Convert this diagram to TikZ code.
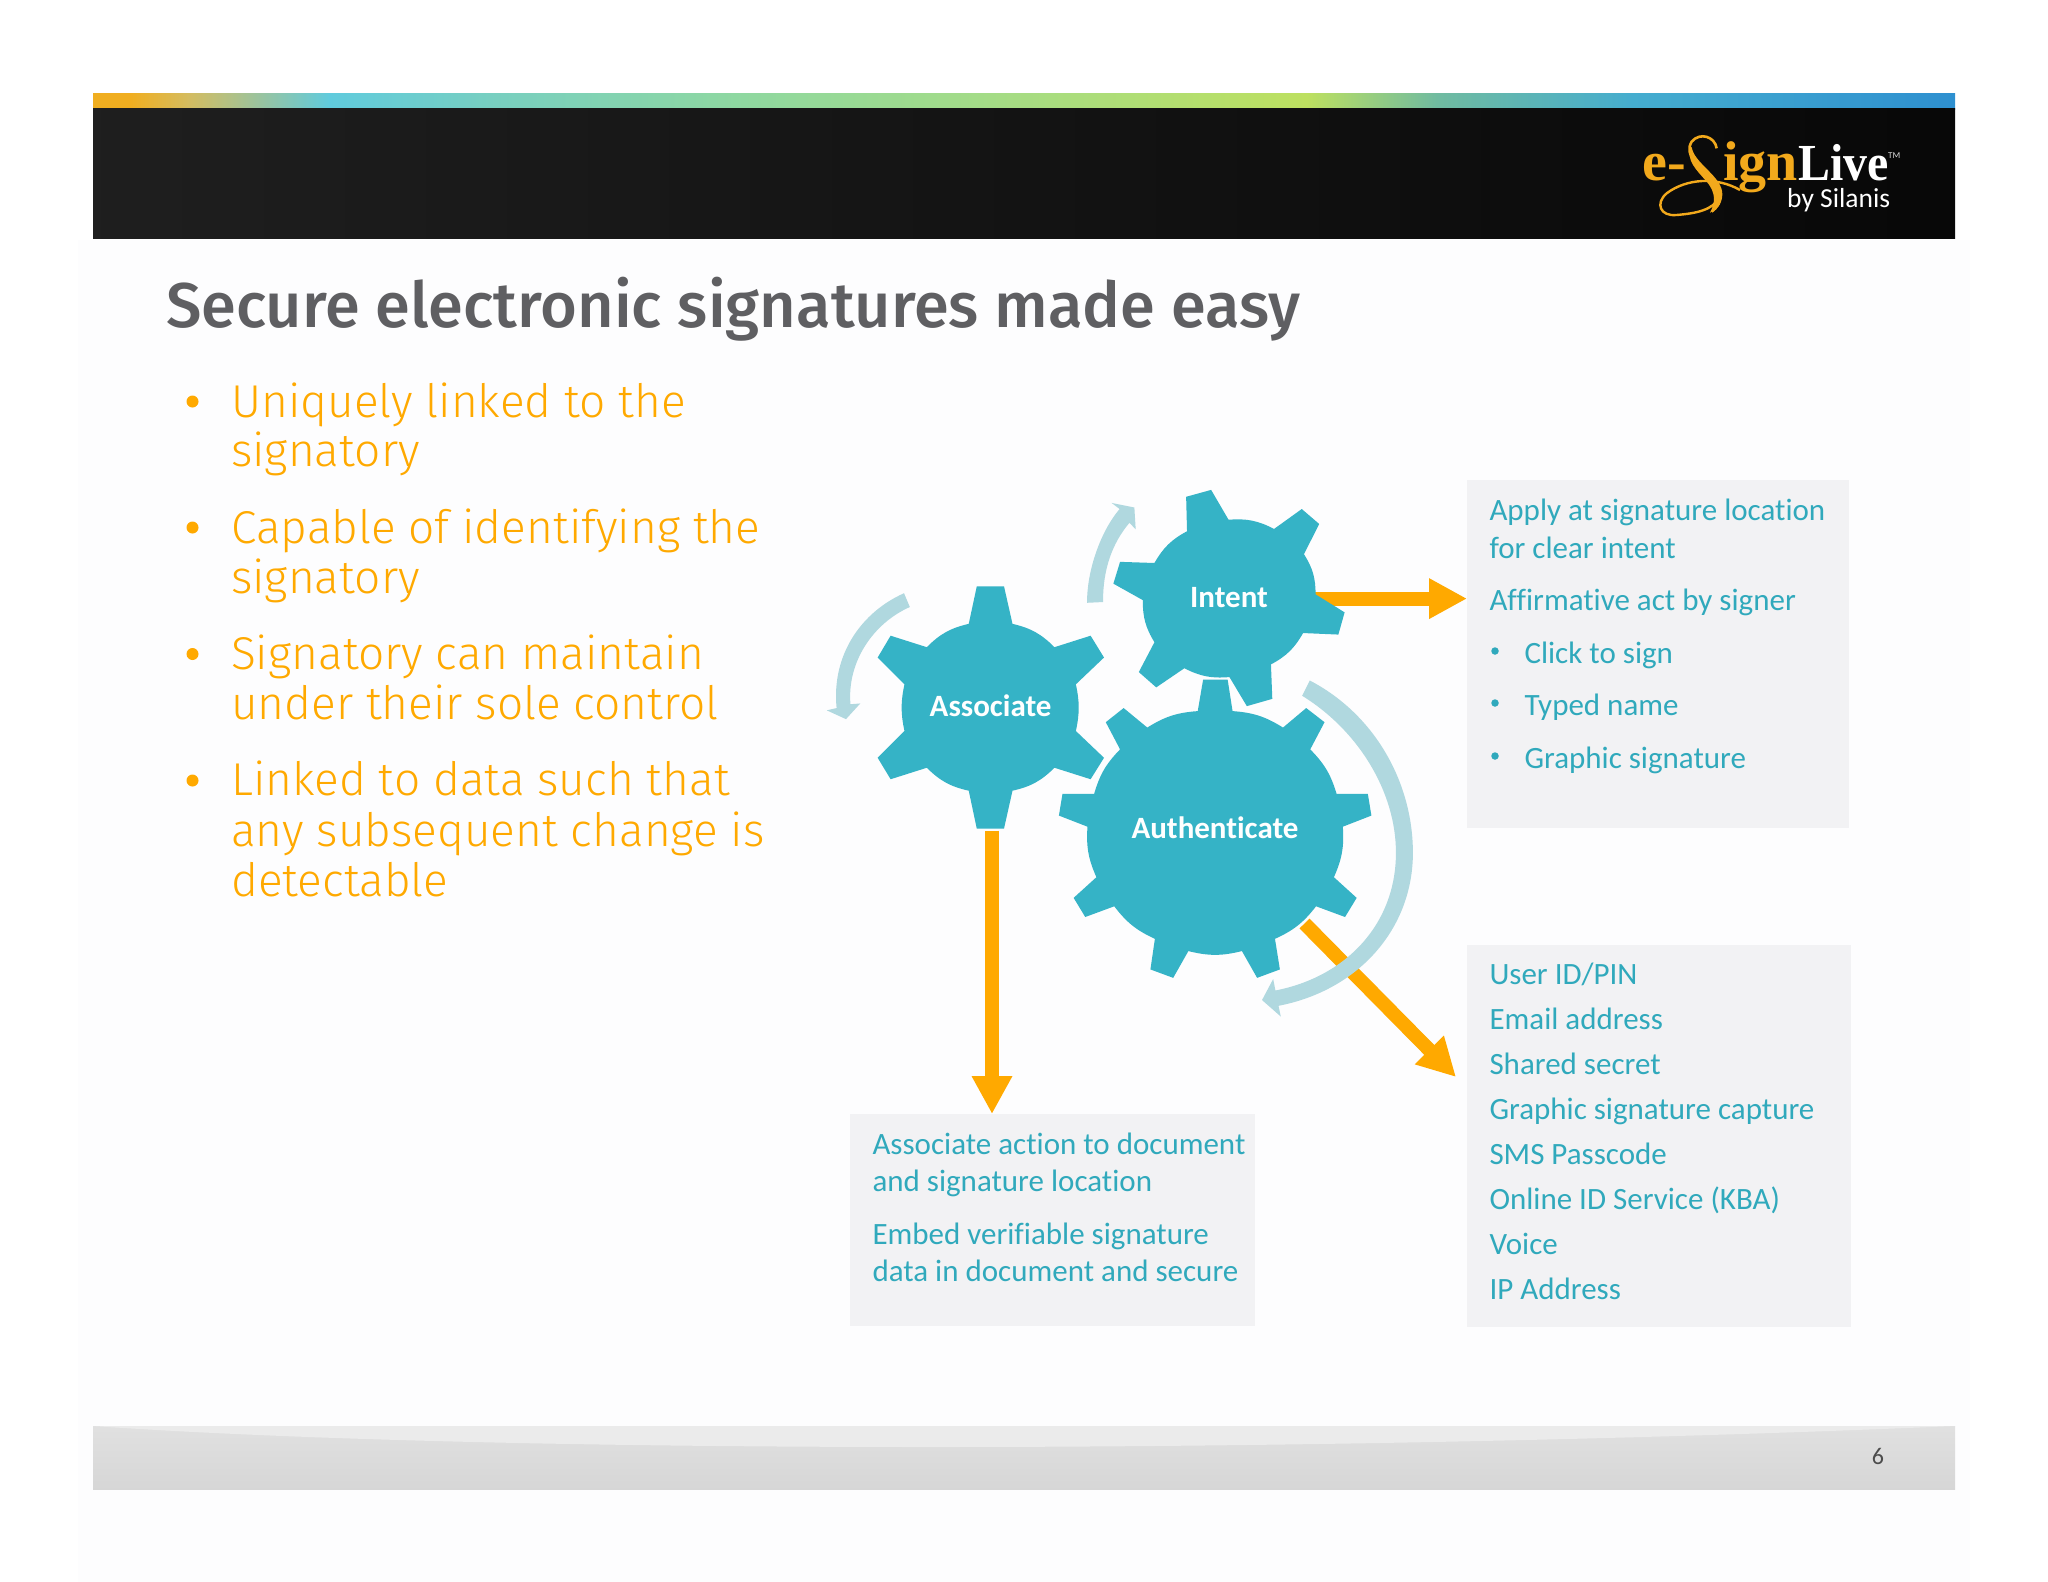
\documentclass[tikz,border=0pt]{standalone}
\usepackage{fontspec}
\usetikzlibrary{arrows.meta}
\setmainfont{Carlito}
\newfontfamily\carl[Ligatures=NoCommon]{Carlito}
\newfontfamily\lightf{Fira Sans Light}
\newfontfamily\medf{Fira Sans Medium}
\newfontfamily\serf{Liberation Serif}
\definecolor{gearc}{HTML}{35B3C6}
\definecolor{lightc}{HTML}{B0D8DF}
\definecolor{orangec}{HTML}{FFA900}
\definecolor{panelc}{HTML}{F2F2F4}
\definecolor{tealt}{HTML}{30A9BC}
\definecolor{titlec}{HTML}{5F5F62}
\definecolor{logoc}{HTML}{F2A91C}
\definecolor{pagec}{HTML}{FDFDFE}
\tikzset{
 panel/.style={fill=panelc,draw=none,inner sep=0pt,outer sep=0pt,anchor=north west},
 boxtext/.style={inner sep=0pt,anchor=base west,xshift=-0.7pt,yshift=-1pt,text=tealt,font=\carl\fontsize{31}{34}\selectfont},
 listtext/.style={inner sep=0pt,anchor=base west,xshift=-1pt,yshift=-0.7pt,text=orangec,font=\lightf\fontsize{46}{50}\selectfont},
 listbullet/.style={circle,fill=orangec,inner sep=0pt,minimum size=12pt},
 boxbullet/.style={circle,fill=tealt,inner sep=0pt,minimum size=7.5pt},
 gearlabel/.style={inner sep=0pt,anchor=base,text=white,font=\carl\bfseries\fontsize{31}{33}\selectfont},
 gearfill/.style={fill=gearc,draw=none},
 turn/.style={fill=lightc,draw=none},
 link/.style={draw=orangec,line width=14pt},
}
\newcommand{\gradseg}[4]{\definecolor{ga}{HTML}{#3}\definecolor{gb}{HTML}{#4}\fill[left color=ga,right color=gb] (#1,93) rectangle (#2,109);}
\begin{document}
\begin{tikzpicture}[x=1pt,y=-1pt]
\useasboundingbox (0,0) rectangle (2048,1582);
\fill[white] (0,0) rectangle (2048,1582);
\fill[pagec] (78,240) rectangle (1970,1582);
% top band
\gradseg{93}{131}{F0AE20}{F0AE20}
\gradseg{130}{189}{F0AE20}{D4BC60}
\gradseg{188}{330}{D4BC60}{60CBDD}
\gradseg{329}{496}{60CBDD}{78CFC0}
\gradseg{495}{744}{78CFC0}{8FD8A0}
\gradseg{743}{1001}{8FD8A0}{A5DC85}
\gradseg{1000}{1308}{A5DC85}{BDE060}
\gradseg{1307}{1437}{BDE060}{70BBA0}
\gradseg{1436}{1633}{70BBA0}{45ADCF}
\gradseg{1632}{1955}{45ADCF}{2E90D0}
\fill[left color=black!88!white,right color=black!97!white] (93,108) rectangle (1955,238);
% logo
\begin{scope}[shift={(1560,80)},x=0.3333pt,y=-0.3333pt]
\draw[logoc,line width=2.4pt] (540,330) .. controls (470,290) and (380,295) .. (320,340) .. controls (285,370) and (300,410) .. (350,405) .. controls (410,400) and (460,390) .. (480,350);
\draw[logoc,line width=2.6pt] (470,205) .. controls (465,170) and (420,155) .. (395,185) .. controls (370,225) and (420,265) .. (450,300) .. controls (480,335) and (490,370) .. (455,395);
\fill[logoc] (395,200) .. controls (400,250) and (490,290) .. (487,345) .. controls (485,375) and (470,390) .. (450,398) .. controls (465,370) and (470,340) .. (440,305) .. controls (410,270) and (375,240) .. (395,200) -- cycle;
\end{scope}
\node[inner sep=0pt,anchor=base west,text=logoc,font=\serf\bfseries\fontsize{56}{60}\selectfont] (logoa) at (1642,180) {e-};
\node[inner sep=0pt,anchor=base west,text=logoc,font=\serf\bfseries\fontsize{56}{60}\selectfont] (logob) at (1723,180) {ign};
\node[inner sep=0pt,anchor=base west,text=white,font=\serf\bfseries\fontsize{52}{60}\selectfont] (logol) at (1798,180) {\scalebox{0.92}[1]{Live}};
\node[inner sep=0pt,anchor=base west,text=white!85!black,font=\carl\fontsize{9}{10}\selectfont] (logod) at (1888,158) {TM};
\node[inner sep=0pt,anchor=base west,text=white,font=\carl\fontsize{27.5}{30}\selectfont] (logoe) at (1787,207) {by Silanis};
% footer
\fill[top color=white!88!black,bottom color=white!84!black] (93,1426) rectangle (1955,1489);
\fill[white!92!black] (93,1426) .. controls (500,1454) and (1300,1454) .. (1955,1426) -- cycle;
\node[inner sep=0pt,anchor=base,text=black!70!white,font=\carl\fontsize{24}{26}\selectfont] (pageno) at (1878,1464) {6};
% title and list
\node[inner sep=0pt,anchor=base west,text=titlec,font=\medf\fontsize{63.2}{66}\selectfont] (title) at (166,327) {Secure electronic signatures made easy};
\node[listbullet] (lb1) at (192.5,401.5) {};
\node[listbullet] (lb2) at (192.5,527.5) {};
\node[listbullet] (lb3) at (192.5,654) {};
\node[listbullet] (lb4) at (192.5,780.5) {};
\node[listtext] (l1) at (232,416.5) {Uniquely linked to the};
\node[listtext] (l2) at (232,466) {signatory};
\node[listtext] (l3) at (232,543) {Capable of identifying the};
\node[listtext] (l4) at (232,593) {signatory};
\node[listtext] (l5) at (232,669) {Signatory can maintain};
\node[listtext] (l6) at (232,719) {under their sole control};
\node[listtext] (l7) at (232,795) {Linked to data such that};
\node[listtext] (l8) at (232,846) {any subsequent change is};
\node[listtext] (l9) at (232,895.5) {detectable};
% panels
\node[panel,minimum width=382pt,minimum height=348pt] (box1) at (1467,480) {};
\node[panel,minimum width=384pt,minimum height=382pt] (box2) at (1467,945) {};
\node[panel,minimum width=405pt,minimum height=212pt] (box3) at (850,1114) {};
\node[boxtext] (t1a) at (1490,519) {Apply at signature location};
\node[boxtext] (t1b) at (1490,557) {for clear intent};
\node[boxtext] (t1c) at (1490,609) {Affirmative act by signer};
\node[boxbullet] (bb1) at (1495,651) {};
\node[boxbullet] (bb2) at (1495,703) {};
\node[boxbullet] (bb3) at (1495,756) {};
\node[boxtext] (t1d) at (1525,662) {Click to sign};
\node[boxtext] (t1e) at (1525,714) {Typed name};
\node[boxtext] (t1f) at (1525,767) {Graphic signature};
\node[boxtext] (t2a) at (1490,983) {User ID/PIN};
\node[boxtext] (t2b) at (1490,1028) {Email address};
\node[boxtext] (t2c) at (1490,1073) {Shared secret};
\node[boxtext] (t2d) at (1490,1118) {Graphic signature capture};
\node[boxtext] (t2e) at (1490,1163) {SMS Passcode};
\node[boxtext] (t2f) at (1490,1208) {Online ID Service (KBA)};
\node[boxtext] (t2g) at (1490,1253) {Voice};
\node[boxtext] (t2h) at (1490,1298) {IP Address};
\node[boxtext] (t3a) at (873,1153) {Associate action to document};
\node[boxtext] (t3b) at (873,1190) {and signature location};
\node[boxtext] (t3c) at (873,1243) {Embed verifiable signature};
\node[boxtext] (t3d) at (873,1280) {data in document and secure};
% connectors
\coordinate (intentOut) at (1310,598.6);
\coordinate (assocOut) at (992,830.5);
\coordinate (authOut) at (1304.5,923.5);
\coordinate (authTip) at (1456,1077);
\draw[link,-{Triangle[length=38pt,width=38pt]}] (intentOut) -- (box1.west |- intentOut);
\draw[link,-{Triangle[length=38pt,width=38pt]}] (assocOut) -- (assocOut |- box3.north);
\draw[link,-{Triangle[length=38pt,width=38pt]}] (authOut) -- (authTip);
% gears
\begin{scope}[shift={(800,470)},x=0.4464pt,y=-0.3827pt]
\fill[gearfill] (396,304) -- (457,304) -- (476,402) to[bend left=16] (570,463) -- (651,433) -- (681,490) -- (618,560) to[bend left=12] (618,682) -- (681,752) -- (651,808) -- (570,778) to[bend left=16] (476,838) -- (457,937) -- (396,937) -- (378,838) to[bend left=16] (284,778) -- (203,808) -- (174,752) -- (234,682) to[bend left=12] (234,560) -- (174,490) -- (203,433) -- (284,463) to[bend left=16] (378,402) -- cycle;
\fill[gearfill] (865,70) -- (921,52) -- (960,130) to[bend left=16] (1062,154) -- (1124,102) -- (1163,141) -- (1129,220) to[bend left=16] (1155,325) -- (1220,372) -- (1206,430) -- (1127,426) to[bend left=16] (1055,508) -- (1058,598) -- (1001,617) -- (962,541) to[bend left=16] (861,518) -- (798,568) -- (759,528) -- (794,450) to[bend left=16] (768,340) -- (702,297) -- (717,240) -- (794,243) to[bend left=16] (867,160) -- cycle;
\fill[gearfill] (903,548) -- (958,548) -- (969,630) to[bend left=14] (1082,673) -- (1134,622) -- (1175,659) -- (1143,730) to[bend left=14] (1202,846) -- (1272,846) -- (1280,903) -- (1216,932) to[bend left=14] (1196,1064) -- (1247,1118) -- (1221,1168) -- (1156,1140) to[bend left=14] (1064,1225) -- (1075,1305) -- (1024,1327) -- (990,1257) to[bend left=14] (870,1257) -- (836,1327) -- (785,1305) -- (795,1225) to[bend left=14] (704,1140) -- (639,1168) -- (613,1118) -- (664,1064) to[bend left=14] (644,932) -- (580,903) -- (588,846) -- (659,846) to[bend left=14] (717,730) -- (685,659) -- (725,622) -- (778,673) to[bend left=14] (891,630) -- cycle;
% rotation arrows
\fill[turn] (643,347) .. controls (643,250) and (680,150) .. (716,102) -- (698,86) -- (749,98) -- (752,155) -- (738,138) .. controls (700,190) and (678,260) .. (679,345) -- cycle;
\fill[turn] (233,322) .. controls (140,370) and (70,480) .. (82,622) -- (60,628) -- (103,651) -- (135,610) -- (113,612) .. controls (105,500) and (165,400) .. (246,358) -- cycle;
\fill[turn] (1142,550) .. controls (1290,640) and (1373,820) .. (1373,1000) .. controls (1373,1200) and (1250,1360) .. (1072,1400) -- (1077,1428) -- (1035,1385) -- (1060,1330) -- (1065,1360) .. controls (1220,1325) and (1335,1190) .. (1335,1000) .. controls (1335,840) and (1250,680) .. (1125,590) -- cycle;
\end{scope}
\node[gearlabel] (gAssoc) at (990.6,716) {Associate};
\node[gearlabel] (gIntent) at (1229,607.5) {Intent};
\node[gearlabel] (gAuth) at (1215,838) {Authenticate};
\end{tikzpicture}
\end{document}
